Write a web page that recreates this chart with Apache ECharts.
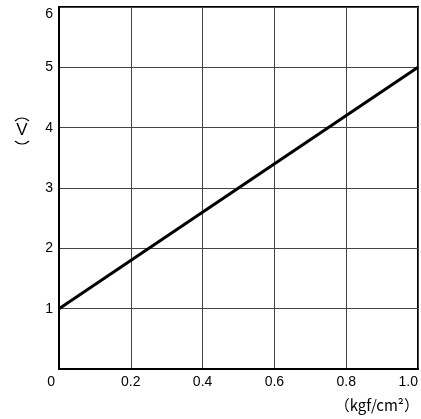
<!DOCTYPE html>
<html>
<head>
<meta charset="utf-8">
<script src="https://cdn.jsdelivr.net/npm/echarts@6/dist/echarts.min.js"></script>
<style>
html, body { margin: 0; padding: 0; background: #fff; }
#container { width: 421px; height: 419px; }
</style>
</head>
<body>
<div id="container"></div>
<script>
// pressure (kgf/cm2) vs output (V)
let pressure = [0, 1.0];
let voltage = [1, 5];
let xTicks = [0, 0.2, 0.4, 0.6, 0.8, 1.0];
let yTicks = [0, 1, 2, 3, 4, 5, 6];

var dom = document.getElementById('container');
var myChart = echarts.init(dom, null, { renderer: 'canvas' });

var font = 'Liberation Sans, Arial, sans-serif';
var half = 46 * Math.PI / 180;

var option = {
    animation: false,
    grid: {
        left: 59,
        top: 7,
        right: 3,
        bottom: 50,
        show: true,
        borderColor: '#000',
        borderWidth: 2
    },
    xAxis: {
        type: 'value',
        min: xTicks[0],
        max: xTicks[xTicks.length - 1],
        interval: 0.2,
        axisLine: { show: true, lineStyle: { color: '#000', width: 2 } },
        axisTick: { show: false },
        splitLine: { lineStyle: { color: '#444', width: 1 } },
        axisLabel: {
            color: '#000',
            fontSize: 14,
            fontFamily: font,
            margin: 6,
            alignMinLabel: 'right',
            alignMaxLabel: 'right',
            formatter: function (v) {
                return v === 0 ? '0 ' : v.toFixed(1);
            }
        }
    },
    yAxis: {
        type: 'value',
        min: yTicks[0],
        max: yTicks[yTicks.length - 1],
        interval: 1,
        axisLine: { show: true, lineStyle: { color: '#000', width: 2 } },
        axisTick: { show: false },
        splitLine: { lineStyle: { color: '#444', width: 1 } },
        axisLabel: {
            color: '#000',
            fontSize: 14,
            fontFamily: font,
            margin: 6,
            showMinLabel: false,
            verticalAlignMaxLabel: 'top'
        }
    },
    graphic: [
        // vertical unit label (V): the brackets lie above and below the V
        {
            type: 'arc',
            shape: { cx: 22, cy: 127.7, r: 9.7, startAngle: -Math.PI / 2 - half, endAngle: -Math.PI / 2 + half },
            style: { stroke: '#000', lineWidth: 1.2, fill: null }
        },
        {
            type: 'text',
            x: 22,
            y: 130,
            style: {
                text: 'V',
                fill: '#000',
                font: '17px Liberation Sans, Arial, sans-serif',
                align: 'center',
                verticalAlign: 'middle'
            }
        },
        {
            type: 'arc',
            shape: { cx: 22, cy: 134.3, r: 9.7, startAngle: Math.PI / 2 - half, endAngle: Math.PI / 2 + half },
            style: { stroke: '#000', lineWidth: 1.2, fill: null }
        },
        {
            type: 'text',
            right: 2,
            top: 398,
            style: {
                text: '（kgf/cm²）',
                fill: '#000',
                font: '15px "Noto Sans CJK JP", sans-serif'
            }
        }
    ],
    series: [
        {
            type: 'line',
            data: pressure.map(function (p, i) { return [p, voltage[i]]; }),
            symbol: 'none',
            lineStyle: { color: '#000', width: 3 }
        }
    ]
};

myChart.setOption(option);
window.addEventListener('resize', myChart.resize);
</script>
</body>
</html>
